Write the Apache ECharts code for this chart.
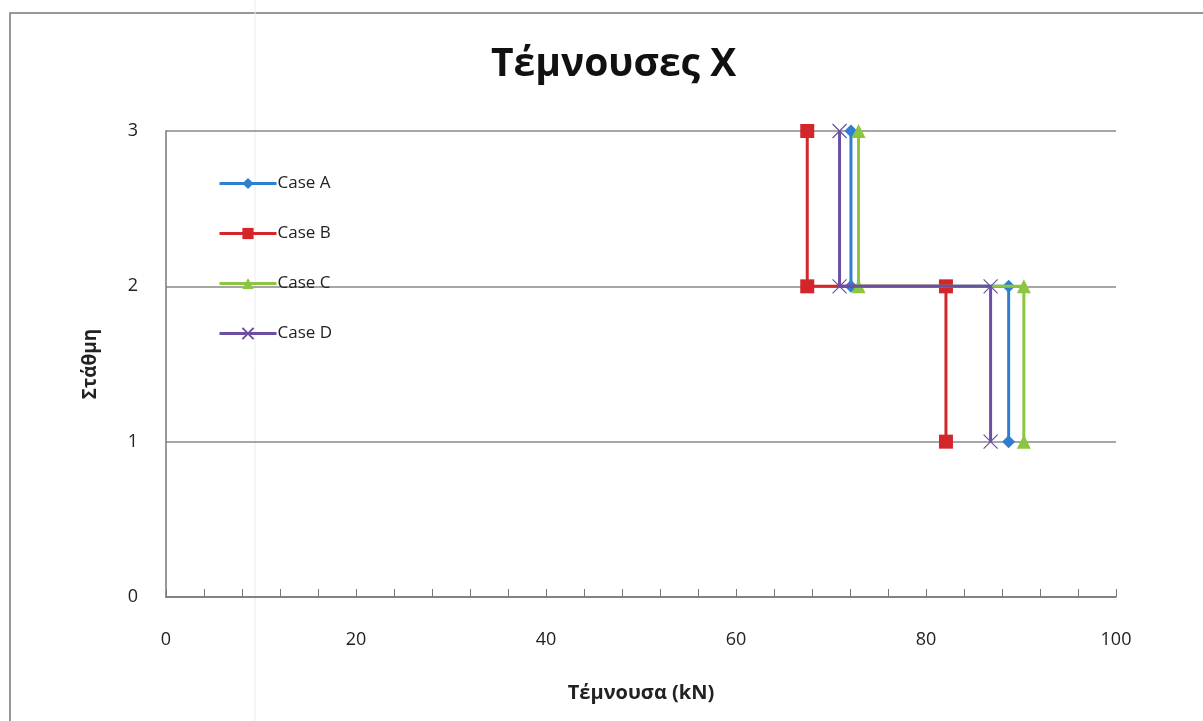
<!DOCTYPE html>
<html>
<head>
<meta charset="utf-8">
<script src="https://cdn.jsdelivr.net/npm/echarts@6/dist/echarts.min.js"></script>
<style>
html,body{margin:0;padding:0;background:#fff;}
#chart{width:1203px;height:721px;}
</style>
</head>
<body>
<div id="chart"></div>
<script>
// Data
const levels = [3, 2, 2, 1];
const caseA = [72.1, 72.1, 88.7, 88.7];
const caseB = [67.5, 67.5, 82.1, 82.1];
const caseC = [72.9, 72.9, 90.3, 90.3];
const caseD = [70.9, 70.9, 86.8, 86.8];
const seriesNames = ['Case A', 'Case B', 'Case C', 'Case D'];
const xTicks = [0, 20, 40, 60, 80, 100];
const yTicks = [0, 1, 2, 3];

const colors = ['#2f7fd1', '#d3262b', '#8cc53f', '#6b4fa3'];
const symbols = ['diamond', 'rect', 'triangle', 'path://M0,0L10,10M10,0L0,10'];
const sizes = [13, 14, 14, 14];
const all = [caseA, caseB, caseC, caseD];

const chart = echarts.init(document.getElementById('chart'));
const font = '"Open Sans", "Noto Sans", sans-serif';

const series = all.map((vals, i) => ({
  name: seriesNames[i],
  type: 'line',
  data: vals.map((v, k) => [v, levels[k]]),
  symbol: symbols[i],
  symbolSize: sizes[i],
  showSymbol: true,
  lineStyle: { color: colors[i], width: 3 },
  itemStyle: i === 3 ? { color: colors[i], borderColor: colors[i], borderWidth: 1.2 } : { color: colors[i] },
  z: 2 + i,
  animation: false
}));

chart.setOption({
  backgroundColor: '#ffffff',
  animation: false,
  title: {
    text: 'Τέμνουσες Χ',
    left: 486,
    top: 40,
    textStyle: { fontFamily: font, fontSize: 39, fontWeight: 'bold', color: '#111' }
  },
  legend: {
    orient: 'vertical',
    left: 213,
    top: 170,
    itemWidth: 57,
    itemHeight: 14,
    itemGap: 33,
    data: seriesNames,
    lineStyle: { width: 3 },
    textStyle: { fontFamily: font, fontSize: 17, color: '#222', padding: [0, 0, 0, -4] }
  },
  grid: { left: 166, right: 87, top: 131, bottom: 124, containLabel: false },
  xAxis: {
    type: 'value',
    min: 0, max: 100, interval: 20,
    name: 'Τέμνουσα (kN)',
    nameLocation: 'middle',
    nameGap: 86,
    nameTextStyle: { fontFamily: font, fontSize: 20, fontWeight: 'bold', color: '#222' },
    axisLine: { show: true, lineStyle: { color: '#777', width: 1.5 } },
    axisTick: { show: true, inside: true, length: 8, lineStyle: { color: '#777' } },
    minorTick: { show: true, splitNumber: 5, length: 8, lineStyle: { color: '#777' } },
    axisLabel: {
      margin: 34, fontFamily: font, fontSize: 18, color: '#222',
      formatter: v => xTicks.includes(v) ? String(v) : ''
    },
    splitLine: { show: false }
  },
  yAxis: {
    type: 'value',
    min: 0, max: 3, interval: 1,
    name: 'Στάθμη',
    nameLocation: 'middle',
    nameGap: 66,
    nameTextStyle: { fontFamily: font, fontSize: 19, fontWeight: 'bold', color: '#222' },
    axisLine: { show: true, lineStyle: { color: '#777', width: 1.5 } },
    axisTick: { show: false },
    axisLabel: {
      margin: 28, fontFamily: font, fontSize: 18, color: '#222',
      formatter: v => yTicks.includes(v) ? String(v) : ''
    },
    splitLine: { show: true, lineStyle: { color: '#888', width: 1.5 } }
  },
  graphic: [
    { type: 'rect', shape: { x: 10, y: 13, width: 1250, height: 800 },
      style: { fill: 'none', stroke: '#777', lineWidth: 1.5 }, silent: true, z: -1 },
    { type: 'line', shape: { x1: 255, y1: 0, x2: 255, y2: 721 },
      style: { stroke: '#ececec', lineWidth: 1 }, silent: true, z: -1 }
  ],
  series: series
});
</script>
</body>
</html>
